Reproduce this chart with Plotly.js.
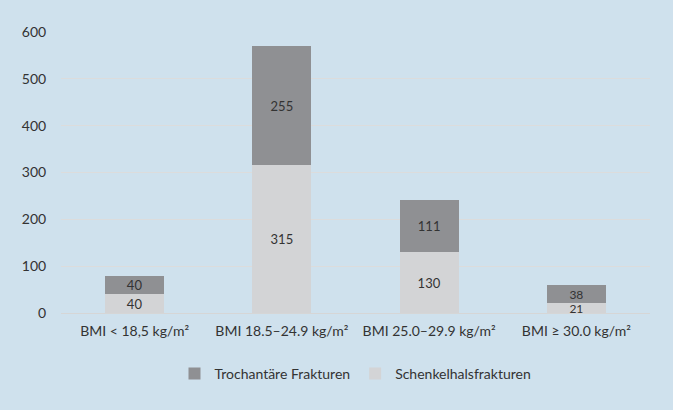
<!DOCTYPE html>
<html>
<head>
<meta charset="utf-8">
<script src="https://cdn.plot.ly/plotly-3.0.1.min.js"></script>
<style>html,body{margin:0;padding:0;background:#cfe1ed;}#chart{width:673px;height:410px;}</style>
</head>
<body>
<div id="chart"></div>
<script>
const categories = ["BMI < 18,5 kg/m²", "BMI 18.5–24.9 kg/m²", "BMI 25.0–29.9 kg/m²", "BMI ≥ 30.0 kg/m²"];
const schenkelhals = [40, 315, 130, 21];
const trochantaer = [40, 255, 111, 38];
const yTicks = [0, 100, 200, 300, 400, 500, 600];

const fam = "Lato, 'Open Sans', sans-serif";
const txtColor = "#333333";
const labelSizes = [13, 13, 13, 12];

const traces = [
  {
    type: "bar", name: "Schenkelhalsfrakturen", x: categories, y: schenkelhals,
    marker: {color: "#d3d4d6"}, text: schenkelhals.map(String), textposition: "inside",
    insidetextanchor: "end", textangle: 0, constraintext: "none", cliponaxis: false,
    textfont: {family: fam, size: labelSizes, color: txtColor},
    hoverinfo: "y+name"
  },
  {
    type: "bar", name: "Trochantäre Frakturen", x: categories, y: trochantaer,
    marker: {color: "#8f9093"}, text: trochantaer.map(String), textposition: "inside",
    insidetextanchor: "middle", textangle: 0, constraintext: "none", cliponaxis: false,
    textfont: {family: fam, size: labelSizes, color: txtColor},
    hoverinfo: "y+name"
  }
];
// bottom series labels: centred like the reference except the short last bar
traces[0].insidetextanchor = "middle";

const layout = {
  width: 673, height: 410,
  paper_bgcolor: "#cfe1ed", plot_bgcolor: "#cfe1ed",
  font: {family: fam, size: 13, color: txtColor},
  barmode: "stack", bargap: 0.6,
  margin: {l: 61, r: 23, t: 32, b: 97},
  showlegend: true,
  legend: {orientation: "h", x: 0.5, xanchor: "center", y: -0.16, yanchor: "top",
           traceorder: "reversed", itemwidth: 30,
           font: {family: fam, size: 14, color: txtColor}},
  xaxis: {tickfont: {family: fam, size: 14, color: txtColor}, showline: true,
          linecolor: "#d6d6d6", linewidth: 1, ticks: "outside", ticklen: 5,
          tickcolor: "rgba(0,0,0,0)", automargin: false},
  yaxis: {range: [0, 600], tickvals: yTicks, ticktext: yTicks.map(String),
          showgrid: true, gridcolor: "#dcdcdc", gridwidth: 1, zeroline: false,
          ticks: "outside", ticklen: 11, tickcolor: "rgba(0,0,0,0)",
          tickfont: {family: fam, size: 14, color: txtColor},
          automargin: false}
};

Plotly.newPlot("chart", traces, layout, {displayModeBar: false, staticPlot: true});
</script>
</body>
</html>
